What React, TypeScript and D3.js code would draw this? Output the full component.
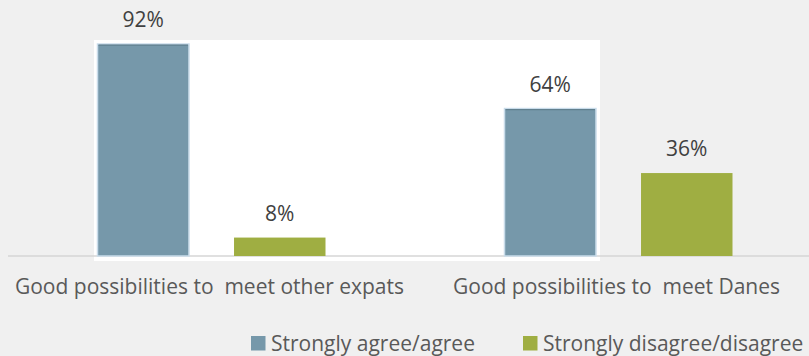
import React from "react";
import * as d3 from "d3";

const categories = ["Good possibilities to  meet other expats", "Good possibilities to  meet Danes"];
const seriesNames = ["Strongly agree/agree", "Strongly disagree/disagree"];
const agreeValues = [92, 64];
const disagreeValues = [8, 36];
const seriesColors = ["#7698aa", "#9fae42"];

const W = 809;
const H = 356;
const FONT = "'Open Sans', 'Noto Sans', sans-serif";

export default function App() {
  const baseline = 256;
  const x0 = d3.scaleBand<string>().domain(categories).range([7.5, 821.5]);
  const x1 = d3.scaleBand<string>().domain(seriesNames).range([90, 318]).paddingInner(0.33).paddingOuter(0);
  const y = d3.scaleLinear().domain([0, 100]).range([baseline, 25.6]);
  const valuesBySeries = [agreeValues, disagreeValues];
  const legendX = [251, 523];

  return (
    <svg width={W} height={H} style={{ position: "fixed", left: 0, top: 0 }} fontFamily={FONT}>
      <rect x={0} y={0} width={W} height={H} fill="#f0f0f0" />
      <rect x={94} y={40} width={506} height={221} fill="#ffffff" />
      <line x1={8} x2={W} y1={baseline} y2={baseline} stroke="#d6d6d6" strokeWidth={1.5} />
      {categories.map((c, ci) => (
        <g key={c} transform={`translate(${x0(c)},0)`}>
          {seriesNames.map((s, si) => {
            const v = valuesBySeries[si][ci];
            const bx = x1(s)!;
            const bw = x1.bandwidth();
            const top = y(v);
            return (
              <g key={s}>
                <rect
                  x={bx}
                  y={top}
                  width={bw}
                  height={baseline - top}
                  fill={seriesColors[si]}
                  stroke={si === 0 ? "#c9dcea" : "none"}
                  strokeWidth={si === 0 ? 1.5 : 0}
                />
                {si === 0 && <line x1={bx + 1} x2={bx + bw - 1} y1={top + 1} y2={top + 1} stroke="#62808f" strokeWidth={1.2} />}
                <text x={bx + bw / 2} y={top - 17} textAnchor="middle" fontSize={21} fill="#404040">
                  {v}%
                </text>
              </g>
            );
          })}
          <text x={x0.bandwidth() / 2 - 1.5} y={294} textAnchor="middle" fontSize={21} fill="#595959" style={{ whiteSpace: "pre" }}>
            {c}
          </text>
        </g>
      ))}
      {seriesNames.map((s, si) => {
        const lx = legendX[si];
        return (
          <g key={s}>
            <rect x={lx} y={336} width={14.5} height={14.5} fill={seriesColors[si]} />
            <text x={lx + 20} y={351} fontSize={21} fill="#595959">
              {s}
            </text>
          </g>
        );
      })}
    </svg>
  );
}
